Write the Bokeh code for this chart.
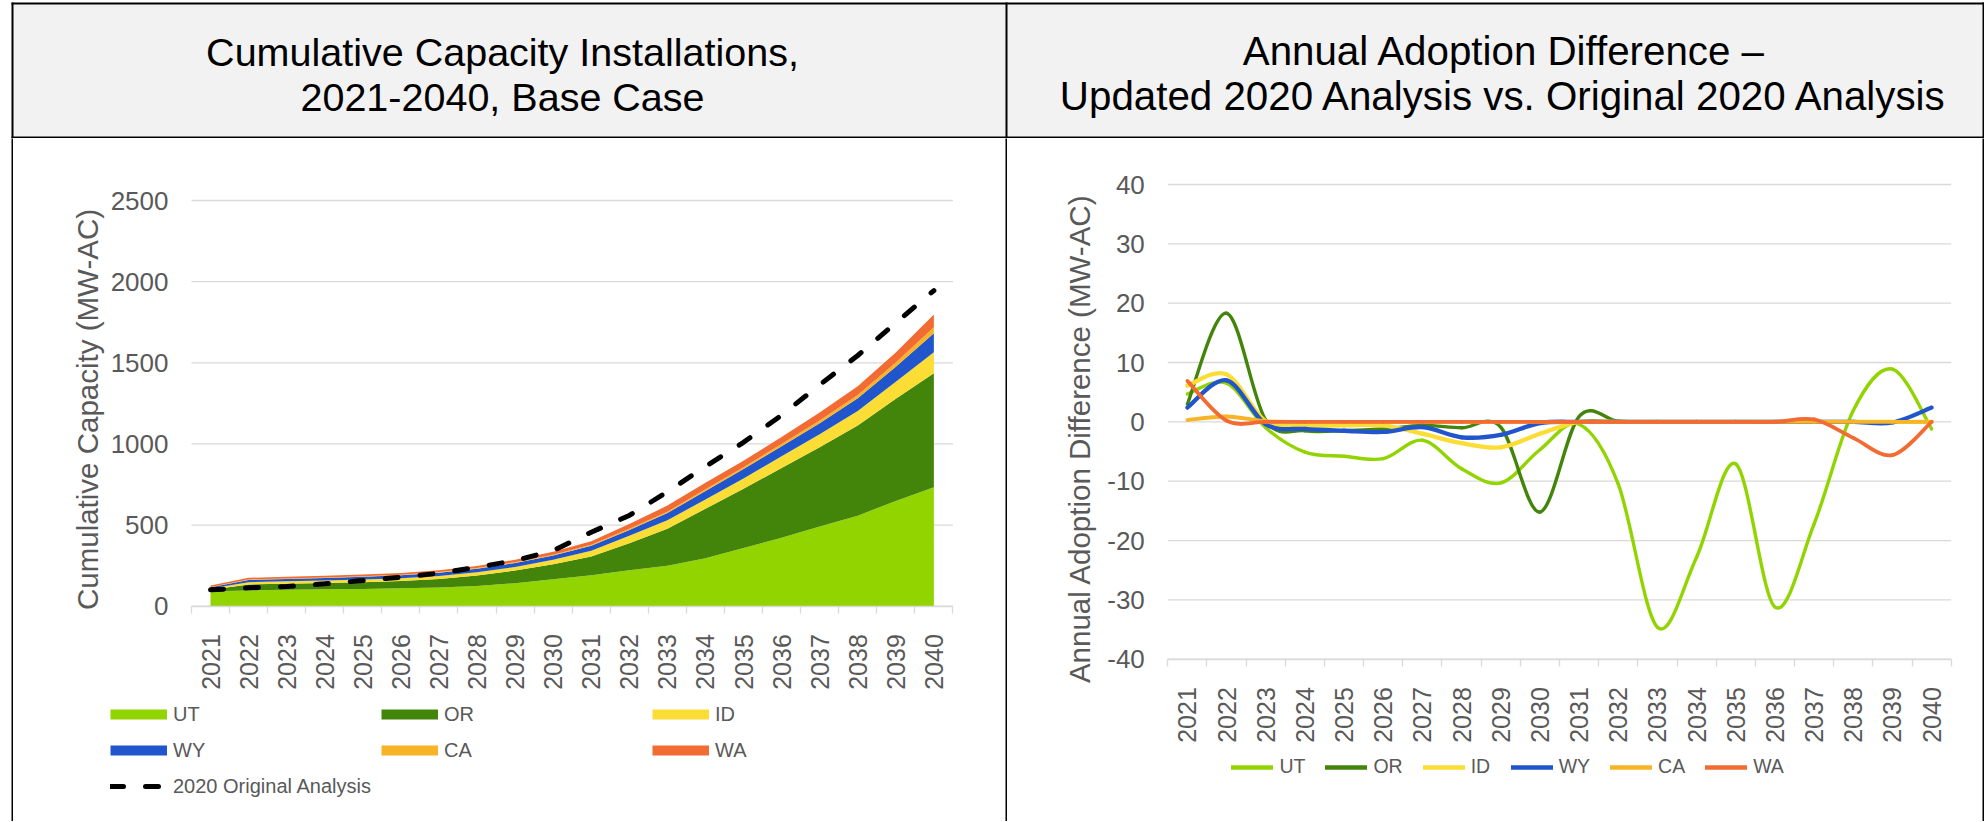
import math
from bokeh.plotting import figure
from bokeh.layouts import row, column
from bokeh.models import ColumnDataSource, Range1d, FixedTicker, Legend, LegendItem, Label
from bokeh.embed import file_html
from bokeh.resources import INLINE

# ---------------- data ----------------
years = [str(y) for y in range(2021, 2041)]
states = ["UT", "OR", "ID", "WY", "CA", "WA"]
state_colors = ["#92D400", "#43840B", "#FBDD35", "#2155CB", "#F8B427", "#F26B32"]

# cumulative capacity by state (MW-AC), stacked in the left chart
ut_cap = [92, 97, 101, 104, 106, 110, 116, 125, 142, 166, 190, 222, 250, 295, 358, 422, 491, 558, 649, 733]
or_cap = [9, 37, 38, 39, 42, 46, 52, 64, 78, 92, 116, 166, 227, 305, 365, 430, 489, 555, 629, 703]
id_cap = [8, 14, 14, 15, 16, 17, 18, 20, 22, 28, 36, 46, 52, 58, 64, 72, 80, 90, 105, 129]
wy_cap = [8, 14, 15, 16, 17, 18, 20, 22, 24, 26, 30, 36, 45, 52, 58, 62, 68, 78, 92, 117]
ca_cap = [2, 3, 3, 3, 3, 3, 4, 4, 5, 5, 6, 7, 8, 10, 12, 14, 16, 20, 26, 37]
wa_cap = [8, 10, 10, 10, 11, 11, 12, 13, 15, 18, 22, 30, 38, 40, 40, 42, 50, 55, 62, 78]
orig_2020 = [101, 113, 121, 138, 158, 179, 203, 240, 281, 343, 456, 559, 705, 861, 1010, 1177, 1364, 1545, 1746, 1945]

# annual adoption difference (MW-AC), right chart
ut_diff = [4.7, 6.5, -1.0, -5.1, -5.8, -6.2, -3.1, -7.9, -10.3, -4.7, -0.4, -10.5, -34.6, -22.8, -7.1, -31.2, -17.2, 1.9, 8.9, -1.2]
or_diff = [3.0, 18.3, 0.3, -1.5, -1.5, -1.2, -0.6, -1.0, -0.9, -15.2, 0.9, 0.1, 0, 0, 0, 0, 0, 0, 0, 0]
id_diff = [6.1, 8.0, 0.1, -0.6, -0.6, -0.6, -2.0, -3.6, -4.3, -2.0, 0.0, 0, 0, 0, 0, 0, 0, 0, 0, 0]
wy_diff = [2.4, 7.0, -0.4, -1.2, -1.5, -1.7, -0.9, -2.6, -2.2, -0.2, 0, 0, 0, 0, 0, 0, 0, 0, -0.1, 2.4]
ca_diff = [0.3, 0.9, 0.1, 0, 0, 0, 0, 0, 0, 0, 0, 0, 0, 0, 0, 0, 0, 0, 0, 0]
wa_diff = [6.9, 0.2, 0, 0, 0, 0, 0, 0, 0, 0, 0, 0, 0, 0, 0, 0, 0.4, -2.7, -5.6, 0.0]

cap_ticks = [0, 500, 1000, 1500, 2000, 2500]
diff_ticks = [-40, -30, -20, -10, 0, 10, 20, 30, 40]

title_left = ["Cumulative Capacity Installations,", "2021-2040, Base Case"]
title_right = ["Annual Adoption Difference \u2013", "Updated 2020 Analysis vs. Original 2020 Analysis"]
ytitle_left = "Cumulative Capacity (MW-AC)"
ytitle_right = "Annual Adoption Difference (MW-AC)"
orig_label = "2020 Original Analysis"

# ---------------- style / layout constants (page pixels) ----------------
FONT = "Liberation Sans"
TXT = "#595959"
GRID = "#d9d9d9"
W_TOTAL = 1984
HEAD_H = 138
CHART_TOP = 138
CHART_H = 683
CHART_BOTTOM = CHART_TOP + CHART_H
L_X0, L_X1 = 13, 1005          # left panel
R_X0, R_X1 = 1007, 1982        # right panel
n = len(years)
x = list(range(1, n + 1))
NAN = float("nan")


def plain(w, h, color):
    f = figure(width=w, height=h, min_border=0, toolbar_location=None,
               x_axis_location=None, y_axis_location=None, output_backend="svg",
               background_fill_color=color, border_fill_color=color, outline_line_color=None,
               x_range=Range1d(0, w), y_range=Range1d(0, h))
    f.grid.visible = False
    return f


def fit(d0, d1, p0, p1, f_start, f_end):
    """Range whose data d0/d1 fall on page pixels p0/p1 for a frame spanning f_start..f_end."""
    s = (p1 - p0) / (d1 - d0)
    return Range1d(d0 + (f_start - p0) / s, d0 + (f_end - p0) / s)


# ---- header strip (gray band, frame lines and both titles) ----
head = plain(W_TOTAL, HEAD_H, "white")
head.quad(left=[13], right=[1982], bottom=[2], top=[134], fill_color="#f2f2f2", line_color=None)
head.quad(left=[11, 11, 11, 1005, 1982], right=[1984, 1984, 13, 1007, 1984],
          bottom=[134, 0, 0, 0, 0], top=[136, 2, 136, 136, 136], fill_color="black", line_color=None)
for lines, cx, fs in ((title_left, 502, "39.5px"), (title_right, 1504, "40.3px")):
    for text, yb in zip(lines, [87, 42]):
        head.add_layout(Label(x=cx, y=yb, text=text, text_align="center", text_baseline="alphabetic",
                              text_font=FONT, text_font_size=fs, text_color="black"))


def chart(px0, px1, xr, yr, yticks, ybounds):
    p = figure(width=px1 - px0, height=CHART_H, x_range=xr, y_range=yr, min_border=0,
               toolbar_location=None, output_backend="svg", outline_line_color=None,
               background_fill_color="white", border_fill_color="white")
    p.xgrid.visible = False
    p.ygrid.visible = False
    # horizontal gridlines limited to the category span
    p.segment(x0=[0.5] * len(yticks), x1=[n + 0.5] * len(yticks), y0=yticks, y1=yticks,
              line_color=GRID, line_width=1.3)
    ax = p.xaxis[0]
    ax.fixed_location = ybounds[0]
    ax.bounds = (0.5, n + 0.5)
    ax.ticker = FixedTicker(ticks=x, minor_ticks=[i + 0.5 for i in range(0, n + 1)])
    ax.major_label_overrides = {i + 1: y for i, y in enumerate(years)}
    ax.major_label_orientation = math.pi / 2
    ax.major_tick_line_color = None
    ax.major_tick_out = 0
    ax.major_tick_in = 0
    ax.minor_tick_line_color = GRID
    ax.minor_tick_line_width = 1.3
    ax.minor_tick_out = 7
    ax.minor_tick_in = 0
    ax.axis_line_color = GRID
    ax.axis_line_width = 1.3
    ax.major_label_text_font = FONT
    ax.major_label_text_font_size = "25px"
    ax.major_label_text_color = TXT
    ax.major_label_standoff = 21
    ay = p.yaxis[0]
    ay.fixed_location = 0.5
    ay.bounds = ybounds
    ay.ticker = FixedTicker(ticks=yticks)
    ay.major_label_overrides = {t: str(t) for t in yticks}
    ay.axis_line_color = None
    ay.major_tick_line_color = None
    ay.minor_tick_line_color = None
    ay.major_tick_out = 0
    ay.major_tick_in = 0
    ay.major_label_text_font = FONT
    ay.major_label_text_font_size = "26px"
    ay.major_label_text_color = TXT
    ay.major_label_standoff = 23
    return p


def legend(items, loc, orientation, gw, gh, spacing, fs):
    return Legend(items=items, location=loc, orientation=orientation, glyph_width=gw, glyph_height=gh,
                  label_height=gh, label_standoff=6, spacing=spacing, padding=0, margin=0,
                  border_line_color=None, background_fill_alpha=0, label_text_font=FONT,
                  label_text_font_size=fs, label_text_color=TXT)


def proxy(p, **kw):
    # invisible one-point line whose style is shown in the legend
    return p.line(x=[NAN], y=[NAN], **kw)


def ytitle(p, text, px0, xb, yc):
    p.add_layout(Label(x=xb - px0, y=CHART_BOTTOM - yc, x_units="screen", y_units="screen", text=text,
                       angle=math.pi / 2, text_align="center", text_baseline="alphabetic",
                       text_font=FONT, text_font_size="29.5px", text_color=TXT))


# ---------------- left chart ----------------
src = ColumnDataSource(dict(x=x, UT=ut_cap, OR=or_cap, ID=id_cap, WY=wy_cap, CA=ca_cap, WA=wa_cap, orig=orig_2020))
p = chart(L_X0, L_X1,
          fit(0.5, n + 0.5, 191, 952.4, L_X0, L_X1),
          fit(0, 2500, 605.7, 200, CHART_BOTTOM, CHART_TOP),
          cap_ticks, (0, 2500))
p.varea_stack(stackers=states, x="x", color=state_colors, source=src)
p.line("x", "orig", source=src, line_color="black", line_width=5, line_dash="13 22", line_cap="round")

dl = {s: proxy(p, line_color=c, line_width=10, line_cap="butt") for s, c in zip(states, state_colors)}
dl[orig_label] = proxy(p, line_color="black", line_width=5, line_dash="13 22", line_cap="round")
col_x = [110, 381, 652]
groups = [["UT", "WY", orig_label], ["OR", "CA"], ["ID", "WA"]]
for gx, grp in zip(col_x, groups):
    items = [LegendItem(label=s, renderers=[dl[s]]) for s in grp]
    bottom = 696 + 36 * len(grp)
    p.add_layout(legend(items, (gx - L_X0, CHART_BOTTOM - bottom), "vertical", 57, 36, 0, "20px"))
ytitle(p, ytitle_left, L_X0, 87, 409)

# ---------------- right chart ----------------
q = chart(R_X0, R_X1,
          fit(0.5, n + 0.5, 1167.3, 1950.7, R_X0, R_X1),
          fit(-40, 40, 658.7, 184, CHART_BOTTOM, CHART_TOP),
          diff_ticks, (-40, 40))


def bezier_segments(ys):
    pts = list(zip(x, ys))
    d = dict(x0=[], y0=[], x1=[], y1=[], cx0=[], cy0=[], cx1=[], cy1=[])
    for i in range(n - 1):
        p0 = pts[i - 1] if i > 0 else pts[i]
        p1 = pts[i]
        p2 = pts[i + 1]
        p3 = pts[i + 2] if i + 2 < n else pts[i + 1]
        d["x0"].append(p1[0]); d["y0"].append(p1[1])
        d["x1"].append(p2[0]); d["y1"].append(p2[1])
        d["cx0"].append(p1[0] + (p2[0] - p0[0]) / 6.0); d["cy0"].append(p1[1] + (p2[1] - p0[1]) / 6.0)
        d["cx1"].append(p2[0] - (p3[0] - p1[0]) / 6.0); d["cy1"].append(p2[1] - (p3[1] - p1[1]) / 6.0)
    return ColumnDataSource(d)


diffs = [ut_diff, or_diff, id_diff, wy_diff, ca_diff, wa_diff]
widths = [3.4, 3.4, 4.3, 4.3, 3.8, 3.8]
ritems = []
for s, c, ys, w in zip(states, state_colors, diffs, widths):
    q.bezier(x0="x0", y0="y0", x1="x1", y1="y1", cx0="cx0", cy0="cy0", cx1="cx1", cy1="cy1",
             source=bezier_segments(ys), line_color=c, line_width=w, line_cap="round")
    d = proxy(q, line_color=c, line_width=4.7, line_cap="round")
    ritems.append(LegendItem(label=s, renderers=[d]))
q.add_layout(legend(ritems, (1231.4 - R_X0, CHART_BOTTOM - 778.7), "horizontal", 42, 24, 20, "19.5px"))
ytitle(q, ytitle_right, R_X0, 1079, 438)

# ---------------- layout ----------------
chart_row = row(plain(11, CHART_H, "white"), plain(2, CHART_H, "black"), p,
                plain(2, CHART_H, "black"), q, plain(2, CHART_H, "black"))
layout = column(head, chart_row)

open("out.html", "w").write(file_html(layout, INLINE))
